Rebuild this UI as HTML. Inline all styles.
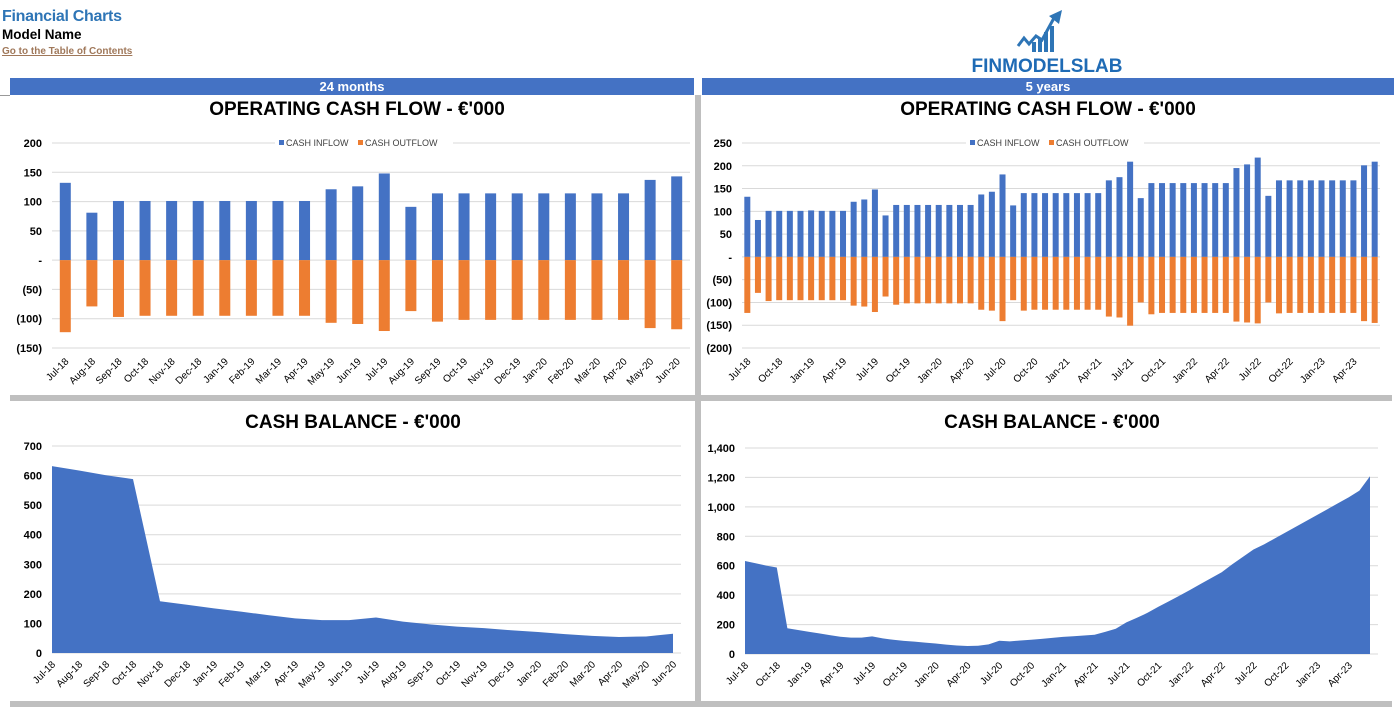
<!DOCTYPE html>
<html><head><meta charset="utf-8">
<style>
body{margin:0;width:1396px;height:725px;background:#fff;font-family:"Liberation Sans",sans-serif;position:relative;overflow:hidden}
.abs{position:absolute}
.band{background:#4472c4;color:#fff;font-weight:bold;font-size:13px;text-align:center;line-height:17px}
.gray{background:#bfbfbf}
</style></head><body>
<div class="abs" style="left:2px;top:8px;font-size:16px;font-weight:bold;color:#2e75b6;letter-spacing:-0.3px">Financial Charts</div>
<div class="abs" style="left:2px;top:27px;font-size:13.5px;font-weight:bold;color:#000">Model Name</div>
<div class="abs" style="left:2px;top:46px;font-size:10px;font-weight:bold;color:#a0785a;text-decoration:underline">Go to the Table of Contents</div>
<div class="abs" style="left:966px;top:8px;width:162px;height:66px">
<svg width="162" height="66"><polyline points="52,38 58,30 63,36 70,28 76,32 88,10" fill="none" stroke="#2e75b6" stroke-width="3"/><polygon points="83,8 96,2 93,16" fill="#2e75b6"/><rect x="66" y="34" width="4" height="10" fill="#2e75b6"/><rect x="72" y="30" width="4" height="14" fill="#2e75b6"/><rect x="78" y="24" width="4" height="20" fill="#2e75b6"/><rect x="84" y="18" width="4" height="26" fill="#2e75b6"/>
<text x="81" y="64" text-anchor="middle" font-size="19" font-weight="bold" fill="#1f6bb5" font-family="Liberation Sans,sans-serif">FINMODELSLAB</text></svg></div>
<div class="abs band" style="left:10px;top:78px;width:684px;height:17px">24 months</div>
<div class="abs band" style="left:702px;top:78px;width:692px;height:17px">5 years</div>
<div class="abs" style="left:0;top:95px;width:10px;height:1px;background:#999"></div>
<div class="abs gray" style="left:695px;top:95px;width:6px;height:612px"></div>
<div class="abs gray" style="left:10px;top:395px;width:1382px;height:6px"></div>
<div class="abs gray" style="left:10px;top:701px;width:1382px;height:6px"></div>
<svg id="svg" class="abs" style="left:0;top:0" width="1396" height="725"></svg>
<script>
const months24=["Jul-18","Aug-18","Sep-18","Oct-18","Nov-18","Dec-18","Jan-19","Feb-19","Mar-19","Apr-19","May-19","Jun-19","Jul-19","Aug-19","Sep-19","Oct-19","Nov-19","Dec-19","Jan-20","Feb-20","Mar-20","Apr-20","May-20","Jun-20"];
const inflow24=[132,81,101,101,101,101,101,101,101,101,121,126,148,91,114,114,114,114,114,114,114,114,137,143];
const outflow24=[-123,-79,-97,-95,-95,-95,-95,-95,-95,-95,-107,-109,-121,-87,-105,-102,-102,-102,-102,-102,-102,-102,-116,-118];
const inflow5y=[132,81,101,101,101,101,102,101,101,101,121,126,148,91,114,114,114,114,114,114,114,114,137,143,181,113,140,140,140,140,140,140,140,140,168,175,209,129,162,162,162,162,162,162,162,162,195,203,218,134,168,168,168,168,168,168,168,168,201,209];
const outflow5y=[-123,-79,-97,-95,-95,-95,-95,-95,-95,-95,-107,-109,-121,-87,-105,-102,-102,-102,-102,-102,-102,-102,-116,-118,-141,-95,-118,-116,-116,-116,-116,-116,-116,-116,-131,-133,-151,-100,-126,-123,-123,-123,-123,-123,-123,-123,-142,-144,-146,-100,-124,-123,-123,-123,-123,-123,-123,-123,-141,-145];
const cash24=[632,617,601,588,175,163,151,140,128,117,111,111,120,106,97,89,84,77,71,64,58,54,56,65];
const cash5y=[632,617,601,588,175,163,151,140,128,117,111,111,120,106,97,89,84,77,71,64,58,54,56,65,90,86,92,97,103,110,116,121,126,131,150,172,215,246,280,320,358,396,435,476,516,556,610,660,710,745,785,825,865,905,945,985,1025,1065,1110,1208];
const ticksCF24=[200,150,100,50,0,-50,-100,-150];
const ticksCF5=[250,200,150,100,50,0,-50,-100,-150,-200];
const ticksCB24=[0,100,200,300,400,500,600,700];
const ticksCB5=[0,200,400,600,800,1000,1200,1400];
const mon=["Jan","Feb","Mar","Apr","May","Jun","Jul","Aug","Sep","Oct","Nov","Dec"];
const months60=[];for(let i=0;i<60;i++){const m=(6+i)%12,y=18+Math.floor((6+i)/12);months60.push(mon[m]+"-"+y);}

const NS="http://www.w3.org/2000/svg";const svg=document.getElementById('svg');
function mk(t,a,p){const e=document.createElementNS(NS,t);for(const k in a)e.setAttribute(k,a[k]);(p||svg).appendChild(e);return e;}
function fmt(v){if(v===0)return"-";const s=Math.abs(v).toLocaleString('en-US');return v<0?"("+s+")":s;}
function fmt0(v){return v.toLocaleString('en-US');}
function title(x,y,t,name){const e=mk('text',{x:x,y:y,'text-anchor':'middle','font-size':19,'font-weight':'bold',fill:'#000'});e.textContent=t;}
function yaxis(ticks,sy,x0,x1,lx,f,name){const g=mk('g',{});
 ticks.forEach(v=>{mk('line',{x1:x0,x2:x1,y1:sy(v),y2:sy(v),stroke:'#d9d9d9','stroke-width':1},g);const t=mk('text',{x:lx,y:sy(v)+4,'text-anchor':'end','font-size':11,'font-weight':'bold',fill:'#000'},g);t.textContent=f(v);});}
function xlabels(labels,sx,y,step,name){const g=mk('g',{});
 labels.forEach((l,i)=>{if(i%step)return;const x=sx(i);const t=mk('text',{x:x+4,y:y,'text-anchor':'end','font-size':10,fill:'#000',transform:`rotate(-45 ${x+4} ${y})`},g);t.textContent=l;});}
function legend(cx,y,name){const g=mk('g',{});
 mk('rect',{x:cx-78,y:y-6,width:5,height:5,fill:'#4472c4'},g);let t=mk('text',{x:cx-71,y:y,'font-size':9,fill:'#404040'},g);t.textContent="CASH INFLOW";
 mk('rect',{x:cx+1,y:y-6,width:5,height:5,fill:'#ed7d31'},g);t=mk('text',{x:cx+8,y:y,'font-size':9,fill:'#404040'},g);t.textContent="CASH OUTFLOW";}
function barChart(cats,inf,out,ticks,x0,x1,yTop,yBot,bw,step,prefix,tx,legx){
 const max=ticks[0],min=ticks[ticks.length-1];const sy=v=>yTop+(max-v)/(max-min)*(yBot-yTop);
 const band=(x1-x0)/cats.length;const sx=i=>x0+band*(i+0.5);
 yaxis(ticks,sy,x0,x1,x0-10,fmt,prefix+'-y-axis');
 mk('rect',{x:legx-82,y:sy(ticks[0])-8,width:178,height:12,fill:'#fff'});
 legend(legx,sy(ticks[0])+3,prefix+'-legend');
 cats.forEach((c,i)=>{
  let r=mk('rect',{x:sx(i)-bw/2,y:sy(inf[i]),width:bw,height:sy(0)-sy(inf[i]),fill:'#4472c4'});
  
  r=mk('rect',{x:sx(i)-bw/2,y:sy(0),width:bw,height:sy(out[i])-sy(0),fill:'#ed7d31'});
  });
 xlabels(cats,sx,yBot+14,step,prefix+'-x-axis');}
function areaChart(cats,vals,ticks,x0,x1,yTop,yBot,step,prefix){
 const max=ticks[ticks.length-1];const sy=v=>yBot-v/max*(yBot-yTop);const sx=i=>x0+(x1-x0)*i/(cats.length-1);
 yaxis(ticks,sy,x0,x1+8,x0-10,fmt0,prefix+'-y-axis');
 let d=`M${sx(0)},${sy(0)}`;vals.forEach((v,i)=>d+=` L${sx(i)},${sy(v)}`);d+=` L${sx(vals.length-1)},${sy(0)}Z`;
 const p=mk('path',{d:d,fill:'#4472c4'});
 xlabels(cats,sx,yBot+12,step,prefix+'-x-axis');}

title(357,115,"OPERATING CASH FLOW - €'000",'ocf-24-title');
barChart(months24,inflow24,outflow24,ticksCF24,52,690,143,348,11,1,'ocf-24',0,357);
title(1048,115,"OPERATING CASH FLOW - €'000",'ocf-5y-title');
barChart(months60,inflow5y,outflow5y,ticksCF5,742,1380,143,348,6,3,'ocf-5y',0,1048);
title(353,428,"CASH BALANCE - €'000",'cb-24-title');
areaChart(months24,cash24,ticksCB24,52,673,446,653,1,'cb-24');
title(1052,428,"CASH BALANCE - €'000",'cb-5y-title');
areaChart(months60,cash5y,ticksCB5,745,1370,448,654,3,'cb-5y');
</script>
</body></html>
